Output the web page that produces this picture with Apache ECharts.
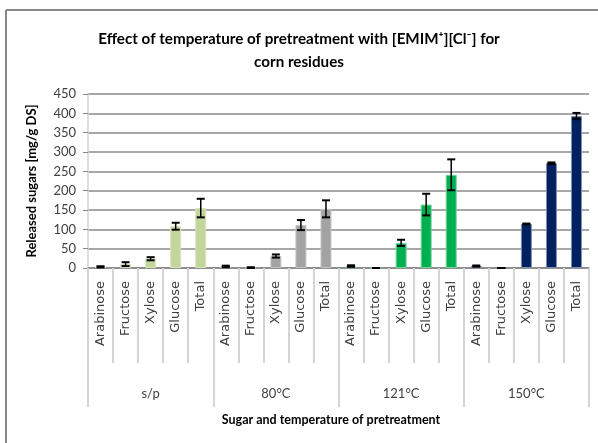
<!DOCTYPE html>
<html>
<head>
<meta charset="utf-8">
<script src="https://cdn.jsdelivr.net/npm/echarts@6/dist/echarts.min.js"></script>
<style>html,body{margin:0;padding:0;background:#fff}#c{width:598px;height:443px}</style>
</head>
<body>
<div id="c"></div>
<script>
const sugars = ['Arabinose', 'Fructose', 'Xylose', 'Glucose', 'Total'];
const groups = ['s/p', '80°C', '121°C', '150°C'];
const spVals = [3, 10, 24, 108, 155];
const spErr = [1.5, 5, 4, 9, 24];
const c80Vals = [4, 1, 31, 111, 153];
const c80Err = [2, 1, 4, 13, 22];
const c121Vals = [5, 0, 65, 164, 241];
const c121Err = [2, 0, 8, 28, 40];
const c150Vals = [5, 0, 114, 271, 393];
const c150Err = [1.5, 0, 1, 2, 8];
const yTicks = [0, 50, 100, 150, 200, 250, 300, 350, 400, 450];

const groupVals = [spVals, c80Vals, c121Vals, c150Vals];
const groupErr = [spErr, c80Err, c121Err, c150Err];
const fills = ['#c3d69b', '#a3a3a3', '#00b050', '#002060'];
const borders = ['#d7e4bd', '#c4c4c4', '#70d49c', '#7f90b0'];

const cats = [];
const barData = [];
const errData = [];
groups.forEach((g, gi) => {
  sugars.forEach((s, si) => {
    const idx = cats.length;
    cats.push(s + '\n' + g);
    barData.push({ value: groupVals[gi][si], itemStyle: { color: fills[gi], borderColor: borders[gi], borderWidth: 1 } });
    errData.push([idx, groupVals[gi][si], groupErr[gi][si]]);
  });
});

const chart = echarts.init(document.getElementById('c'));
chart.setOption({
  animation: false,
  graphic: [
    { type: 'line', shape: { x1: 6, y1: 10, x2: 598, y2: 10 }, style: { stroke: '#888', lineWidth: 2 } },
    { type: 'line', shape: { x1: 6, y1: 10, x2: 6, y2: 443 }, style: { stroke: '#888', lineWidth: 2 } },
    { type: 'text', x: 299, y: 39, style: {
        text: 'Effect of temperature of pretreatment with [EMIM⁺][Cl⁻] for',
        fontFamily: 'Lato', fontWeight: 'bold', fontSize: 15.2, fill: '#000', align: 'center', verticalAlign: 'middle' } },
    { type: 'text', x: 299, y: 62, style: {
        text: 'corn residues',
        fontFamily: 'Lato', fontWeight: 'bold', fontSize: 15.2, fill: '#000', align: 'center', verticalAlign: 'middle' } },
    { type: 'text', x: 331, y: 420, style: { text: 'Sugar and temperature of pretreatment', fontFamily: 'Lato', fontWeight: 'bold', fontSize: 12.5, fill: '#000', align: 'center', verticalAlign: 'middle' } }
  ],
  grid: { left: 88, right: 9, top: 94, bottom: 175, containLabel: false },
  xAxis: [
    {
      type: 'category', data: cats, position: 'bottom',
      axisLine: { show: true, lineStyle: { color: '#888', width: 1.5 } },
      axisTick: { show: true, interval: 0, length: 95, lineStyle: { color: '#d4d4d4', width: 2 } },
      axisLabel: { interval: 0, rotate: 90, margin: 13, color: '#404040', fontFamily: 'DejaVu Sans', fontSize: 13,
        formatter: v => v.split('\n')[0] },
      splitLine: { show: false }
    },
    {
      type: 'category', data: groups, position: 'bottom',
      axisLine: { show: false },
      axisTick: { show: true, interval: 0, length: 139, lineStyle: { color: '#d4d4d4', width: 2 } },
      axisLabel: { interval: 0, margin: 119, color: '#404040', fontFamily: 'Lato', fontSize: 13 },
      splitLine: { show: false }
    }
  ],
  yAxis: {
    type: 'value', min: 0, max: 450, interval: 50,
    name: 'Released sugars [mg/g DS]', nameLocation: 'middle', nameGap: 50, nameRotate: 90,
    nameTextStyle: { fontFamily: 'Lato', fontWeight: 'bold', fontSize: 13, color: '#000' },
    axisLine: { show: true, lineStyle: { color: '#d4d4d4', width: 1.5 } },
    axisTick: { show: true, length: 5, lineStyle: { color: '#888' } },
    axisLabel: { color: '#404040', fontFamily: 'Lato', fontSize: 13, margin: 12,
      formatter: v => yTicks.includes(v) ? String(v) : '' },
    splitLine: { show: true, lineStyle: { color: '#8a8a8a', width: 1.5 } }
  },
  series: [
    { type: 'bar', xAxisIndex: 0, data: barData, barWidth: 11, z: 2 },
    {
      type: 'custom', xAxisIndex: 0, data: errData, z: 5,
      renderItem: (params, api) => {
        const idx = api.value(0), v = api.value(1), e = api.value(2);
        const top = api.coord([idx, v + e]);
        const bot = api.coord([idx, v - e]);
        const hw = 4;
        const st = { stroke: '#000', lineWidth: 1.5 };
        return { type: 'group', children: [
          { type: 'line', shape: { x1: top[0], y1: top[1], x2: bot[0], y2: bot[1] }, style: st },
          { type: 'line', shape: { x1: top[0] - hw, y1: top[1], x2: top[0] + hw, y2: top[1] }, style: { stroke: '#000', lineWidth: 2 } },
          { type: 'line', shape: { x1: bot[0] - hw, y1: bot[1], x2: bot[0] + hw, y2: bot[1] }, style: { stroke: '#000', lineWidth: 2 } }
        ] };
      }
    }
  ]
});
</script>
</body>
</html>
